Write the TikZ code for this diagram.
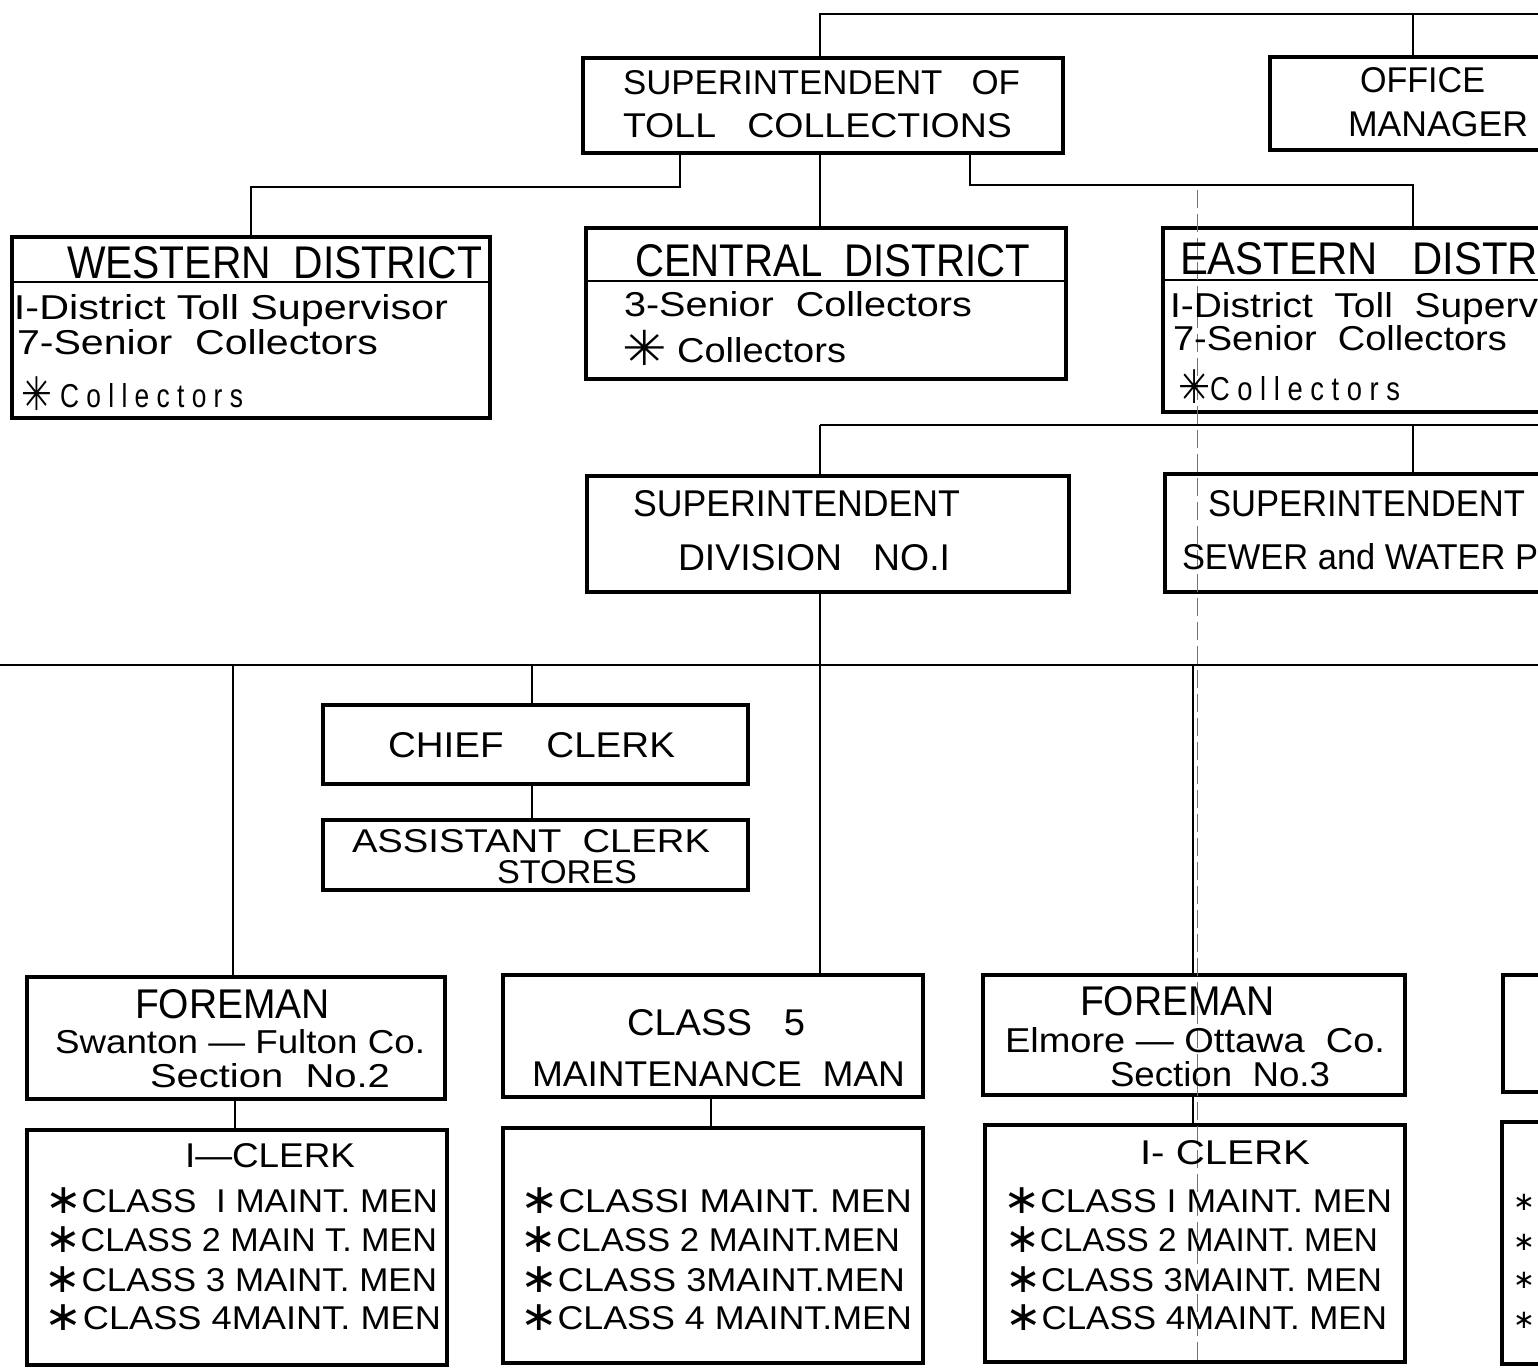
\documentclass[tikz,border=0pt]{standalone}
\usepackage{graphicx}
\usepackage{fontspec}
\setmainfont{Liberation Sans}
\newfontfamily\symf{DejaVu Sans}
\newlength\pxu
\setlength\pxu{0.5pt}
\tikzset{
  box/.style={draw, line width=1.6pt, inner sep=0pt, outer sep=0pt},
  conn/.style={line width=1.4pt},
  txt/.style={anchor=base west, inner sep=0pt, outer sep=0pt},
  scan/.style={line width=0.4pt, black!55, dash pattern=on 9pt off 3pt}
}
\newcommand\bx[5]{\node[box, minimum width={(#4-#2)*0.5pt}, minimum height={(#5-#3)*0.5pt}] (#1) at ({(#2+#4)/2},{(#3+#5)/2}) {};}
\newcommand\tx[6]{\node[txt] (#1) at (#2,#3) {\resizebox{#4\pxu}{#5\pxu}{#6}};}
\newcommand\astk{\smash{\raisebox{-0.05em}{\scalebox{1.25}{\symf ∗}}}}
\newcommand\coll{\smash{\raisebox{-0.1em}{\scalebox{1.4}{\symf ✳}}}}
\begin{document}
\begin{tikzpicture}[x=0.5pt,y=-0.5pt]
\useasboundingbox (0,0) rectangle (1538,1371);
\clip (0,0) rectangle (1538,1371);
\fill[white] (0,0) rectangle (1538,1371);

% boxes
\bx{supt}{583}{58}{1063}{153}
\bx{office}{1270}{57}{1560}{150}
\bx{west}{12}{237}{490}{418}
\bx{central}{586}{228}{1066}{379}
\bx{east}{1163}{228}{1560}{412}
\bx{div1}{587}{476}{1069}{592}
\bx{sewer}{1165}{474}{1560}{592}
\bx{chief}{323}{705}{748}{784}
\bx{asst}{323}{820}{748}{890}
\bx{fore2}{27}{977}{445}{1099}
\bx{clerk2}{27}{1130}{447}{1365}
\bx{class5}{503}{975}{923}{1097}
\bx{clerk5}{503}{1128}{923}{1363}
\bx{fore3}{983}{975}{1405}{1095}
\bx{clerk3}{985}{1125}{1405}{1362}
\bx{fore4}{1503}{975}{1600}{1092}
\bx{clerk4}{1502}{1122}{1600}{1364}

% header dividers
\draw[line width=1.2pt] (12,282) -- (490,282);
\draw[line width=1.2pt] (586,281) -- (1066,281);
\draw[line width=1.2pt] (1163,280) -- (1560,280);

% connector coordinates
\coordinate (t0) at (820,14);
\coordinate (tR) at (1560,14);
\coordinate (wj) at (680,187);
\coordinate (ej) at (970,185);
\coordinate (ek) at (1413,185);
\coordinate (d0) at (820,425);
\coordinate (dR) at (1560,425);
\coordinate (dk) at (1413,425);
\coordinate (hL) at (0,665);
\coordinate (hR) at (1560,665);
\coordinate (h2) at (233,665);
\coordinate (hc) at (532,665);
\coordinate (h3) at (1193,665);
\coordinate (v1) at (820,600);
\coordinate (x2) at (235,0);
\coordinate (x5) at (711,0);

% connectors
\draw[conn] (supt.north -| t0) -- (t0) -- (tR);
\draw[conn] (office.north -| ek) -- (ek |- t0);
\draw[conn] (supt.south -| wj) -- (wj) -| (west.north);
\draw[conn] (supt.south -| t0) -- (central.north -| t0);
\draw[conn] (supt.south -| ej) -- (ej) -- (ek) -- (east.north -| ek);
\draw[conn] (d0) -- (dR);
\draw[conn] (d0) -- (div1.north -| d0);
\draw[conn] (dk) -- (sewer.north -| dk);
\draw[conn] (div1.south -| v1) -- (class5.north -| v1);
\draw[conn] (hL) -- (hR);
\draw[conn] (h2) -- (fore2.north -| h2);
\draw[conn] (hc) -- (chief.north -| hc);
\draw[conn] (chief.south -| hc) -- (asst.north -| hc);
\draw[conn] (h3) -- (fore3.north -| h3);
\draw[conn] (fore2.south -| x2) -- (clerk2.north -| x2);
\draw[conn] (class5.south -| x5) -- (clerk5.north -| x5);
\draw[conn] (fore3.south -| h3) -- (clerk3.north -| h3);

% scan artefact line
\draw[scan] (1197,190) -- (1197,1365);

% texts
\tx{s1}{623}{94}{397}{24}{SUPERINTENDENT\ \ \ OF}
\tx{s2}{623}{137}{389}{24}{TOLL\ \ \ COLLECTIONS}
\tx{o1}{1360}{92}{125}{25}{OFFICE}
\tx{o2}{1348}{136}{180}{25}{MANAGER}

\tx{w0}{67}{278}{415}{32}{WESTERN\ \ DISTRICT}
\tx{w1}{14}{319}{434}{25}{I-District Toll Supervisor}
\tx{w2}{17}{354}{361}{25}{7-Senior\ \ Collectors}
\tx{w3}{22}{407}{221}{24}{\coll\ C o l l e c t o r s}

\tx{c0}{635}{276}{395}{32}{CENTRAL\ \ DISTRICT}
\tx{c1}{624}{316}{348}{25}{3-Senior\ \ Collectors}
\tx{c2}{622}{362}{224}{25}{\coll\ Collectors}

\tx{e0}{1180}{274}{358}{32}{EASTERN\ \ \ DISTR}
\tx{e1}{1170}{317}{368}{25}{I-District\ \ Toll\ \ Superv}
\tx{e2}{1173}{350}{334}{25}{7-Senior\ \ Collectors}
\tx{e3}{1178}{400}{222}{24}{\coll C o l l e c t o r s}

\tx{d1}{633}{516}{327}{26}{SUPERINTENDENT}
\tx{d2}{678}{570}{272}{26}{DIVISION\ \ \ NO.I}
\tx{sw1}{1208}{516}{317}{26}{SUPERINTENDENT}
\tx{sw2}{1182}{569}{356}{26}{SEWER and WATER P}

\tx{cc}{388}{757}{287}{25}{CHIEF\ \ \ \ CLERK}
\tx{a1}{352}{852}{358}{23}{ASSISTANT\ \ CLERK}
\tx{a2}{497}{883}{140}{23}{STORES}

\tx{f21}{135}{1018}{195}{29}{FOREMAN}
\tx{f22}{55}{1053}{370}{24}{Swanton — Fulton Co.}
\tx{f23}{150}{1087}{240}{24}{Section\ \ No.2}
\tx{k20}{185}{1167}{170}{24}{I—CLERK}
\tx{k21}{45}{1212}{393}{23}{\astk CLASS\ \ I MAINT. MEN}
\tx{k22}{45}{1251}{392}{23}{\astk CLASS 2 MAIN T. MEN}
\tx{k23}{45}{1291}{392}{23}{\astk CLASS 3 MAINT. MEN}
\tx{k24}{45}{1329}{396}{23}{\astk CLASS 4MAINT. MEN}

\tx{m1}{627}{1035}{178}{26}{CLASS\ \ \ 5}
\tx{m2}{532}{1086}{373}{25}{MAINTENANCE\ \ MAN}
\tx{k51}{520}{1212}{392}{23}{\astk CLASSI MAINT. MEN}
\tx{k52}{520}{1251}{380}{23}{\astk CLASS 2 MAINT.MEN}
\tx{k53}{520}{1291}{385}{23}{\astk CLASS 3MAINT.MEN}
\tx{k54}{520}{1329}{392}{23}{\astk CLASS 4 MAINT.MEN}

\tx{f31}{1080}{1015}{195}{29}{FOREMAN}
\tx{f32}{1005}{1052}{380}{25}{Elmore — Ottawa\ \ Co.}
\tx{f33}{1110}{1086}{220}{25}{Section\ \ No.3}
\tx{k30}{1140}{1164}{170}{24}{I- CLERK}
\tx{k31}{1003}{1212}{389}{23}{\astk CLASS I MAINT. MEN}
\tx{k32}{1005}{1251}{373}{23}{\astk CLASS 2 MAINT. MEN}
\tx{k33}{1005}{1291}{377}{23}{\astk CLASS 3MAINT. MEN}
\tx{k34}{1005}{1329}{382}{23}{\astk CLASS 4MAINT. MEN}

\node[txt] (r1) at (1513,1210) {\scalebox{1.3}{\symf ∗}};
\node[txt] (r2) at (1513,1250) {\scalebox{1.3}{\symf ∗}};
\node[txt] (r3) at (1513,1288) {\scalebox{1.3}{\symf ∗}};
\node[txt] (r4) at (1513,1328) {\scalebox{1.3}{\symf ∗}};
\end{tikzpicture}
\end{document}
